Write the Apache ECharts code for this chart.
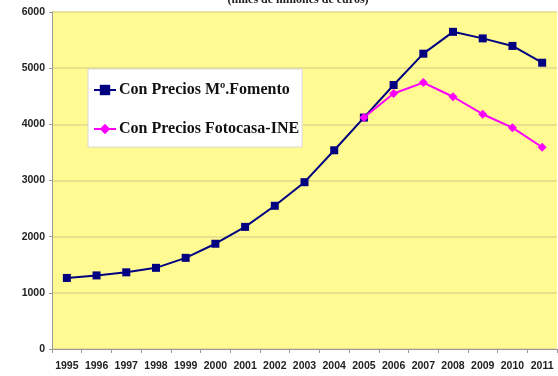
<!DOCTYPE html>
<html>
<head>
<meta charset="utf-8">
<script src="https://cdn.jsdelivr.net/npm/echarts@6/dist/echarts.min.js"></script>
<style>
  html, body { margin: 0; padding: 0; background: #ffffff; }
  #chart { width: 558px; height: 376px; }
</style>
</head>
<body>
<div id="chart"></div>
<script>
// Years on the category axis
const years = ['1995','1996','1997','1998','1999','2000','2001','2002','2003','2004','2005','2006','2007','2008','2009','2010','2011'];

// Series values (miles de millones de euros)
const fomento = [1265, 1310, 1365, 1445, 1623, 1874, 2174, 2550, 2970, 3538, 4120, 4700, 5258, 5647, 5530, 5396, 5097];
const fotocasa = [null, null, null, null, null, null, null, null, null, null, 4120, 4550, 4743, 4491, 4180, 3940, 3592];

const seriesNames = ['Con Precios Mº.Fomento', 'Con Precios Fotocasa-INE'];
const titleText = '(miles de millones de euros)';

const chart = echarts.init(document.getElementById('chart'), null, { renderer: 'canvas' });

chart.setOption({
  animation: false,
  backgroundColor: '#ffffff',
  title: {
    text: titleText,
    left: 298,
    textAlign: 'center',
    top: -6,
    padding: 0,
    textStyle: { fontFamily: 'Liberation Serif', fontWeight: 'bold', fontSize: 12, color: '#222' }
  },
  grid: {
    left: 52, right: 1, top: 12, bottom: 27,
    show: true,
    backgroundColor: '#fffa92',
    borderWidth: 0
  },
  legend: {
    orient: 'vertical',
    left: 88, top: 69,
    padding: [13, 3, 10, 5],
    itemGap: 23,
    itemWidth: 22,
    itemHeight: 13,
    backgroundColor: '#ffffff',
    borderColor: '#d8d8d8',
    borderWidth: 1,
    textStyle: { fontFamily: 'Liberation Serif', fontWeight: 'bold', fontSize: 16, color: '#111', padding: [0, 0, 0, -2] },
    data: seriesNames
  },
  xAxis: {
    type: 'category',
    data: years,
    boundaryGap: true,
    axisLine: { lineStyle: { color: '#9a9a9a', width: 1 } },
    axisTick: { show: true, length: 4, alignWithLabel: false, lineStyle: { color: '#9a9a9a' } },
    axisLabel: { fontFamily: 'Liberation Sans', fontWeight: 'bold', fontSize: 10.5, color: '#222', margin: 12, interval: 0 }
  },
  yAxis: {
    type: 'value',
    min: 0, max: 6000, interval: 1000,
    axisLine: { show: true, lineStyle: { color: '#9a9a9a', width: 1 } },
    axisTick: { show: true, length: 3, lineStyle: { color: '#9a9a9a' } },
    axisLabel: {
      fontFamily: 'Liberation Sans', fontWeight: 'bold', fontSize: 10.5, color: '#222', margin: 7,
      formatter: function (v) { return String(v); }
    },
    splitLine: { show: true, lineStyle: { color: '#e3d98a', width: 1.5 } }
  },
  series: [
    {
      name: seriesNames[0],
      type: 'line',
      data: fomento,
      color: '#000080',
      lineStyle: { width: 2, color: '#000080' },
      symbol: 'rect',
      symbolSize: 8,
      itemStyle: { color: '#000080' },
      z: 2
    },
    {
      name: seriesNames[1],
      type: 'line',
      data: fotocasa,
      color: '#ff00ff',
      lineStyle: { width: 2, color: '#ff00ff' },
      symbol: 'diamond',
      symbolSize: 9,
      itemStyle: { color: '#ff00ff' },
      z: 3
    }
  ]
});
</script>
</body>
</html>
